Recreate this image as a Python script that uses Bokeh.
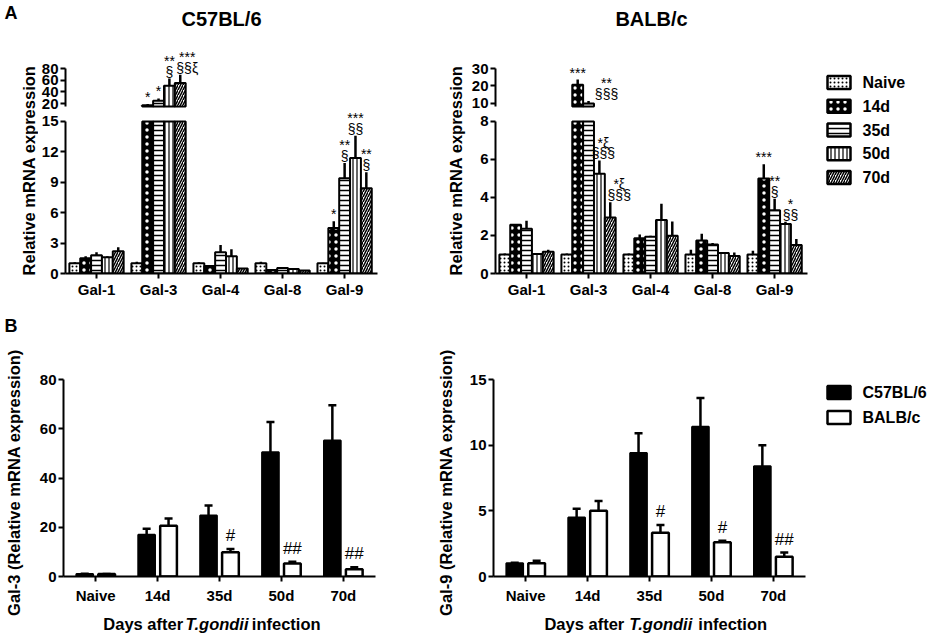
import numpy as np
from bokeh.plotting import figure
from bokeh.models import Range1d, FixedTicker, ColumnDataSource, Whisker, TeeHead
from bokeh.layouts import row, column
from bokeh.embed import file_html
from bokeh.resources import INLINE
from bokeh.core.properties import value

# ---------------- data ----------------
genes = ["Gal-1", "Gal-3", "Gal-4", "Gal-8", "Gal-9"]
timepoints = ["Naive", "14d", "35d", "50d", "70d"]
strains = ["C57BL/6", "BALB/c"]

# rows = genes, columns = timepoints
c57_mean = [
    [1.00, 1.50, 1.80, 1.60, 2.20],
    [1.00, 17.0, 24.8, 50.5, 55.2],
    [1.00, 0.75, 2.10, 1.70, 0.50],
    [1.00, 0.35, 0.55, 0.45, 0.30],
    [1.00, 4.50, 9.40, 11.4, 8.40],
]
c57_err = [
    [0.10, 0.20, 0.30, 0.10, 0.40],
    [0.15, 2.40, 4.00, 12.2, 14.3],
    [0.10, 0.10, 0.70, 0.70, 0.05],
    [0.15, 0.05, 0.05, 0.05, 0.05],
    [0.05, 0.65, 1.50, 2.20, 1.60],
]
balb_mean = [
    [1.00, 2.56, 2.35, 1.02, 1.15],
    [1.00, 20.6, 9.80, 5.25, 2.95],
    [1.00, 1.85, 1.93, 2.82, 1.98],
    [1.00, 1.74, 1.53, 1.08, 0.92],
    [1.00, 5.00, 3.33, 2.60, 1.50],
]
balb_err = [
    [0.05, 0.05, 0.42, 0.05, 0.10],
    [0.05, 3.00, 1.40, 0.70, 0.80],
    [0.05, 0.20, 0.05, 0.85, 0.75],
    [0.25, 0.35, 0.08, 0.05, 0.18],
    [0.20, 0.75, 0.60, 0.12, 0.32],
]

c57_sig = [
    ("Gal-3", "14d", "*"), ("Gal-3", "35d", "*"),
    ("Gal-3", "50d", "**\n§"), ("Gal-3", "70d", "***\n§§ξ"),
    ("Gal-9", "14d", "*"), ("Gal-9", "35d", "**\n§"),
    ("Gal-9", "50d", "***\n§§"), ("Gal-9", "70d", "**\n§"),
]
balb_sig = [
    ("Gal-3", "14d", "***"), ("Gal-3", "35d", "**\n§§§"),
    ("Gal-3", "50d", "*ξ\n§§§"), ("Gal-3", "70d", "*ξ\n§§§"),
    ("Gal-9", "14d", "***"), ("Gal-9", "35d", "**\n§"),
    ("Gal-9", "50d", "*\n§§"),
]
gal3_strain_diff = ["", "", "#", "##", "##"]
gal9_strain_diff = ["", "", "#", "#", "##"]

# ---------------- style ----------------
FONT = "Liberation Sans"
BW = 0.175
PATTERNS = [
    dict(fill_color="white", hatch_pattern="dot", hatch_color="black", hatch_scale=4),
    dict(fill_color="black", hatch_pattern="dot", hatch_color="white", hatch_scale=7),
    dict(fill_color="white", hatch_pattern="horizontal_line", hatch_color="black", hatch_scale=5, hatch_weight=1.5),
    dict(fill_color="white", hatch_pattern="vertical_line", hatch_color="black", hatch_scale=4, hatch_weight=1.2),
    dict(fill_color="white", hatch_pattern="right_diagonal_line", hatch_color="black", hatch_scale=5, hatch_weight=1.5),
]
NUDGE = {("BALB/c", "Gal-3", "35d"): 18, ("BALB/c", "Gal-3", "70d"): 9,
         ("BALB/c", "Gal-3", "50d"): 4, ("BALB/c", "Gal-9", "50d"): 5,
         ("C57BL/6", "Gal-3", "70d"): 7}


def base_fig(w, h, xr, yr, mbl=0, mbr=0, mbt=0, mbb=0, axes=True):
    kw = dict(width=w, height=h, x_range=xr, y_range=yr, toolbar_location=None,
              output_backend="svg", min_border_left=mbl, min_border_right=mbr,
              min_border_top=mbt, min_border_bottom=mbb, sizing_mode="fixed")
    if not axes:
        kw.update(x_axis_location=None, y_axis_location=None)
    p = figure(**kw)
    p.outline_line_color = None
    p.background_fill_color = "white"
    p.border_fill_color = "white"
    p.xgrid.visible = False
    p.ygrid.visible = False
    if axes:
        for ax in (p.xaxis, p.yaxis):
            ax.axis_line_width = 2
            ax.axis_line_color = "black"
            ax.major_tick_line_width = 2
            ax.major_tick_line_color = "black"
            ax.major_tick_out = 5
            ax.major_tick_in = 0
            ax.minor_tick_line_color = None
            ax.major_label_text_font = FONT
            ax.major_label_text_font_style = "bold"
            ax.major_label_text_color = "black"
            ax.major_label_standoff = 2
    return p


def text_fig(w, h, items):
    p = base_fig(w, h, Range1d(0, w), Range1d(h, 0), axes=False)
    for (x, y, txt, angle, align, size, style) in items:
        p.text(x=[x], y=[y], text=[txt], angle=angle, text_align=align,
               text_baseline="middle", text_font=value(FONT),
               text_font_size=size, text_font_style=style, text_color="black")
    return p


def a_panel(strain, mean, err, sig, brk, top_max, bot_ticks, top_ticks, w, mbl, mbr):
    mean = np.asarray(mean, dtype=float)
    err = np.asarray(err, dtype=float)
    upper = mean + err
    gx = np.arange(len(genes))
    xr = Range1d(-0.5, 4.53)
    # upper segment: break value at 106 px, top_max at 68 px (figure 0..112 px)
    TOP_H = 112
    ppu = 38.0 / (top_max - brk)
    pt = base_fig(w, TOP_H, xr, Range1d(brk - (TOP_H - 106) / ppu, brk + 106 / ppu),
                  mbl, mbr, 0, 0)
    # lower segment: figure 112..300 px, zero at 274 px, break value at 121 px
    BOT_H, BOT_MBB = 300 - TOP_H, 26
    bot_end = brk * (BOT_H - BOT_MBB) / 153.0
    pb = base_fig(w, BOT_H, xr, Range1d(0, bot_end), mbl, mbr, 0, BOT_MBB)

    for j in range(len(timepoints)):
        xs = gx + (j - 2) * BW
        pb.vbar(x=xs, bottom=0, top=np.minimum(mean[:, j], brk), width=BW,
                line_color="black", line_width=2, **PATTERNS[j])
        pb.segment(x0=xs, x1=xs, y0=np.minimum(mean[:, j], brk),
                   y1=np.minimum(upper[:, j], brk), line_color="black", line_width=2.5)
        m = mean[:, j] > brk
        if m.any():
            pt.vbar(x=xs[m], bottom=brk, top=mean[m, j], width=BW,
                    line_color="black", line_width=2, **PATTERNS[j])
        mu = upper[:, j] > brk
        if mu.any():
            pt.segment(x0=xs[mu], x1=xs[mu], y0=np.maximum(mean[mu, j], brk),
                       y1=upper[mu, j], line_color="black", line_width=2.5)

    ann = {"top": dict(x=[], y=[], text=[], dx=[]), "bot": dict(x=[], y=[], text=[], dx=[])}
    for g, tp, txt in sig:
        gi, j = genes.index(g), timepoints.index(tp)
        y = upper[gi, j]
        key = "top" if y > brk else "bot"
        ann[key]["x"].append(gi + (j - 2) * BW)
        ann[key]["y"].append(y)
        ann[key]["text"].append(txt)
        ann[key]["dx"].append(NUDGE.get((strain, g, tp), 0))
    for key, p in (("top", pt), ("bot", pb)):
        if ann[key]["x"]:
            p.text(x="x", y="y", text="text", x_offset="dx", y_offset=1,
                   source=ColumnDataSource(ann[key]), text_align="center",
                   text_baseline="bottom", text_font=value(FONT),
                   text_font_size="14px", text_line_height=0.68, text_color="black")

    pb.xaxis.ticker = FixedTicker(ticks=list(gx))
    pb.xaxis.major_label_overrides = {int(i): g for i, g in enumerate(genes)}
    pb.xaxis.major_label_text_font_size = "15px"
    pb.yaxis.ticker = FixedTicker(ticks=bot_ticks)
    pb.yaxis.bounds = (0, brk)
    pb.yaxis.major_label_text_font_size = "15px"
    pt.xaxis.visible = False
    pt.yaxis.ticker = FixedTicker(ticks=top_ticks)
    pt.yaxis.bounds = (brk, top_max)
    pt.yaxis.major_label_text_font_size = "15px"

    # strain title, centred over the plotting area, 18 px from the top
    pt.text(x=[(xr.start + xr.end) / 2], y=[brk + (106 - 18) / ppu], text=[strain],
            text_align="center", text_baseline="middle", text_font=value(FONT),
            text_font_size="20px", text_font_style="bold", text_color="black")
    return column(pt, pb, spacing=0)


def b_panel(gene, yticks, ytop, hashes, w, mbl, mbr):
    gi = genes.index(gene)
    c = np.asarray(c57_mean, dtype=float)[gi]
    ce = np.asarray(c57_err, dtype=float)[gi]
    b = np.asarray(balb_mean, dtype=float)[gi]
    be = np.asarray(balb_err, dtype=float)[gi]
    x = np.arange(len(timepoints))
    p = base_fig(w, 306, Range1d(-0.52, 4.52), Range1d(0, ytop), mbl, mbr, 79, 21)
    off = 0.177
    p.vbar(x=x - off, top=c, width=0.27, fill_color="black", line_color="black", line_width=2)
    p.vbar(x=x + off, top=b, width=0.27, fill_color="white", line_color="black", line_width=2.5)
    for xs, m, e in ((x - off, c, ce), (x + off, b, be)):
        src = ColumnDataSource(dict(x=xs, lower=m, upper=m + e))
        p.add_layout(Whisker(source=src, base="x", lower="lower", upper="upper",
                             upper_head=TeeHead(size=8, line_width=2.5, line_color="black"),
                             lower_head=None, line_width=2.5, line_color="black"))
    p.text(x=x + off, y=b + be, text=hashes, y_offset=-4, text_align="center",
           text_baseline="bottom", text_font=value(FONT), text_font_size="17px",
           text_color="black")
    p.xaxis.ticker = FixedTicker(ticks=list(x))
    p.xaxis.major_label_overrides = {int(i): t for i, t in enumerate(timepoints)}
    p.xaxis.major_label_text_font_size = "15px"
    p.xaxis.major_label_standoff = 5
    p.yaxis.ticker = FixedTicker(ticks=yticks)
    p.yaxis.major_label_text_font_size = "15px"
    frame_c = mbl + (w - mbl - mbr) / 2.0 + 5
    it_half = 33
    xl = text_fig(w, 29, [
        (frame_c - it_half - 9, 17, "Days after", 0, "right", "16.5px", "bold"),
        (frame_c, 17, "T.gondii", 0, "center", "16.5px", "bold italic"),
        (frame_c + it_half + 10, 17, "infection", 0, "left", "16.5px", "bold"),
    ])
    return column(p, xl, spacing=0)


def legend_fig(w, h, labels, styles, y0, dy):
    p = base_fig(w, h, Range1d(0, w), Range1d(h, 0), axes=False)
    for i, (lab, st) in enumerate(zip(labels, styles)):
        y = y0 + i * dy
        p.rect(x=[18.5], y=[y], width=23, height=13, line_color="black",
               line_width=2.5, **st)
        p.text(x=[42], y=[y], text=[lab], text_align="left", text_baseline="middle",
               text_font=value(FONT), text_font_size="16px", text_font_style="bold",
               text_color="black")
    return p


# ---------------- panel A ----------------
YL = "Relative mRNA expression"
labA_left = text_fig(38, 300, [
    (4, 12, "A", 0, "left", "18px", "bold"),
    (28, 170, YL, np.pi / 2, "center", "16.5px", "bold"),
])
colA_left = a_panel(strains[0], c57_mean, c57_err, c57_sig, 15, 80,
                    [0, 3, 6, 9, 12, 15], [20, 40, 60, 80], 382, 27, 43)
labA_right = text_fig(46, 300, [(35, 170, YL, np.pi / 2, "center", "16.5px", "bold")])
colA_right = a_panel(strains[1], balb_mean, balb_err, balb_sig, 8, 30,
                     [0, 2, 4, 6, 8], [10, 20, 30], 354, 29, 13)
legA = legend_fig(110, 300, timepoints, PATTERNS, 82, 23.75)

# ---------------- panel B ----------------
labB_left = text_fig(34, 335, [
    (4, 25, "B", 0, "left", "18px", "bold"),
    (13, 182, "Gal-3 (Relative mRNA expression)", np.pi / 2, "center", "16.5px", "bold"),
])
colB_left = b_panel("Gal-3", [0, 20, 40, 60, 80], 80, gal3_strain_diff, 386, 29, 45)
labB_right = text_fig(42, 335, [
    (25, 182, "Gal-9 (Relative mRNA expression)", np.pi / 2, "center", "16.5px", "bold"),
])
colB_right = b_panel("Gal-9", [0, 5, 10, 15], 15, gal9_strain_diff, 358, 31, 15)
legB = legend_fig(110, 335, strains,
                  [dict(fill_color="black"), dict(fill_color="white")], 92, 25)

layout = column(
    row(labA_left, colA_left, labA_right, colA_right, legA, spacing=0),
    row(labB_left, colB_left, labB_right, colB_right, legB, spacing=0),
    spacing=0,
)

open("out.html", "w").write(file_html(layout, INLINE))
